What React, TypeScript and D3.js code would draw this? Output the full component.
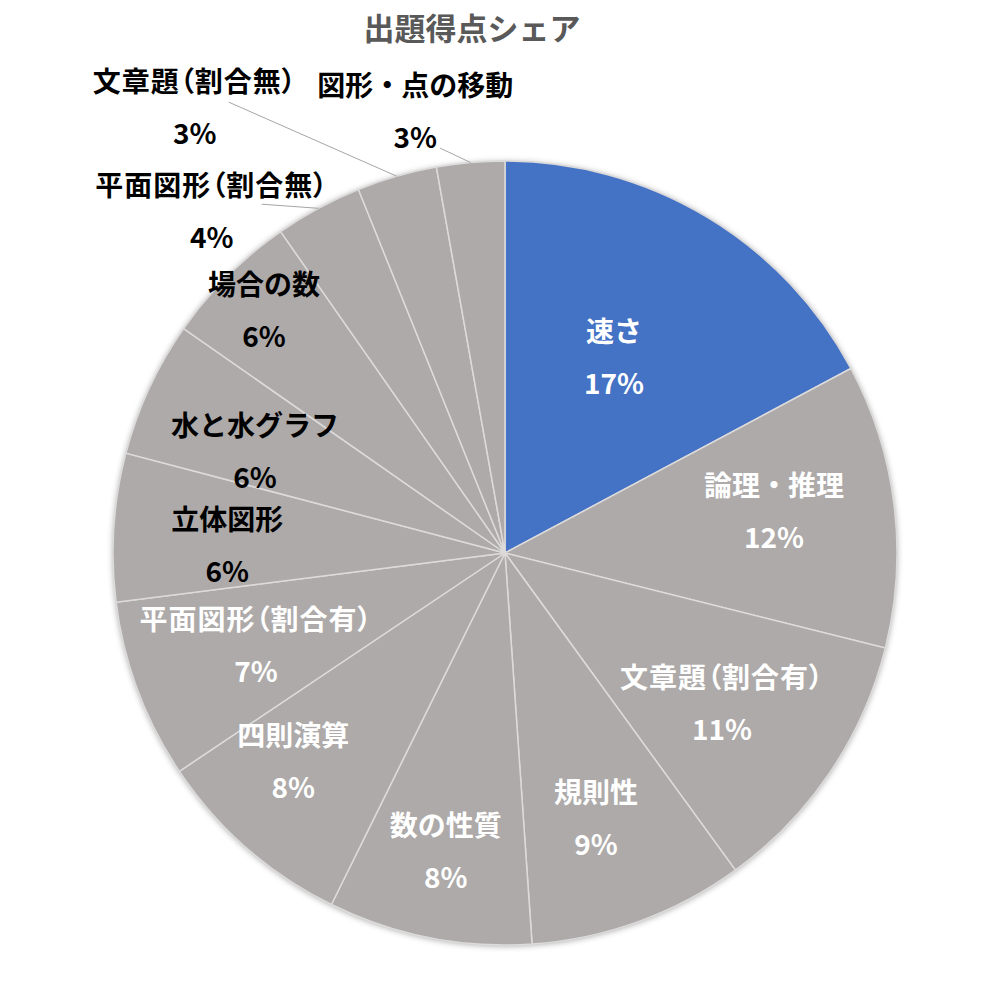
import React from "react";
import * as d3 from "d3";

const categories = [
  "速さ",
  "論理・推理",
  "文章題（割合有）",
  "規則性",
  "数の性質",
  "四則演算",
  "平面図形（割合有）",
  "立体図形",
  "水と水グラフ",
  "場合の数",
  "平面図形（割合無）",
  "文章題（割合無）",
  "図形・点の移動",
];
const values = [17.2, 11.7, 11.1, 8.9, 8.4, 8.3, 7.4, 6.1, 5.6, 5.6, 3.6, 3.3, 2.8];

// label placement: polar [angle deg, radius fraction] of label block center
const labelAngle = [29.2, 81.3, 124.8, 161.1, 191.2, 225.4, 249.5, 271.4, 292.0, 315.1, 319.3, 325.1, 348.5];
const labelRadius = [0.57, 0.694, 0.674, 0.717, 0.778, 0.759, 0.678, 0.709, 0.688, 0.871, 1.147, 1.383, 1.148];
const labelDark = [false, false, false, false, false, false, false, true, true, true, true, true, true];
// leader lines end (polar) for outside labels
const leaderAngle: (number | null)[] = [null, null, null, null, null, null, null, null, null, null, 325.1, 328.5, 350.9];
const leaderRadius: (number | null)[] = [null, null, null, null, null, null, null, null, null, null, 1.085, 1.349, 1.046];

const W = 1000;
const H = 984;
const cx = 505;
const cy = 553;
const R = 392;
const FONT = "'Noto Sans CJK JP', 'Noto Sans', sans-serif";

function polar(angleDeg: number, r: number): [number, number] {
  const a = (angleDeg * Math.PI) / 180;
  return [Math.sin(a) * r, -Math.cos(a) * r];
}

export default function App() {
  const total = d3.sum(values);
  const pie = d3.pie<number>().sort(null).value((d) => d)(values);
  const arc = d3.arc<d3.PieArcDatum<number>>().innerRadius(0).outerRadius(R);
  const fills = categories.map((_, i) => (i === 0 ? "#4472C4" : "#ADAAA9"));

  return (
    <div style={{ position: "absolute", left: 0, top: 0, width: W, height: H, background: "#fff" }}>
      <svg width={W} height={H} style={{ display: "block" }}>
        <defs>
          <filter id="sh" x="-10%" y="-10%" width="120%" height="120%">
            <feDropShadow dx="0" dy="1" stdDeviation="3" floodColor="#000" floodOpacity="0.35" />
          </filter>
        </defs>
        <text
          x={472}
          y={40}
          textAnchor="middle"
          fontFamily={FONT}
          fontWeight={700}
          fontSize={31}
          fill="#595959"
        >
          出題得点シェア
        </text>
        <g transform={`translate(${cx},${cy})`}>
          <circle r={R} fill="#ADAAA9" filter="url(#sh)" />
          {pie.map((p, i) => (
            <path key={i} d={arc(p) || ""} fill={fills[i]} stroke="#DCDADA" strokeWidth={1.5} />
          ))}
          {pie.map((p, i) => {
            if (leaderAngle[i] == null) return null;
            const mid = ((p.startAngle + p.endAngle) / 2) * (180 / Math.PI);
            const [x1, y1] = polar(mid, R);
            const [x2, y2] = polar(leaderAngle[i] as number, R * (leaderRadius[i] as number));
            return <line key={"l" + i} x1={x1} y1={y1} x2={x2} y2={y2} stroke="#A6A6A6" strokeWidth={1} />;
          })}
          {pie.map((p, i) => {
            const [x, y] = polar(labelAngle[i], R * labelRadius[i]);
            const pct = d3.format(".0%")(values[i] / total);
            const col = labelDark[i] ? "#000" : "#fff";
            const hasParen = categories[i].includes("（");
            return (
              <g key={"t" + i} fontFamily={FONT} fontWeight={700} fontSize={28} fill={col} textAnchor="middle">
                <text
                  x={x}
                  y={y - 16}
                  style={hasParen ? { fontFeatureSettings: "'palt'", letterSpacing: "1px" } : undefined}
                >
                  {categories[i]}
                </text>
                <text x={x} y={y + 36}>{pct}</text>
              </g>
            );
          })}
        </g>
      </svg>
    </div>
  );
}
